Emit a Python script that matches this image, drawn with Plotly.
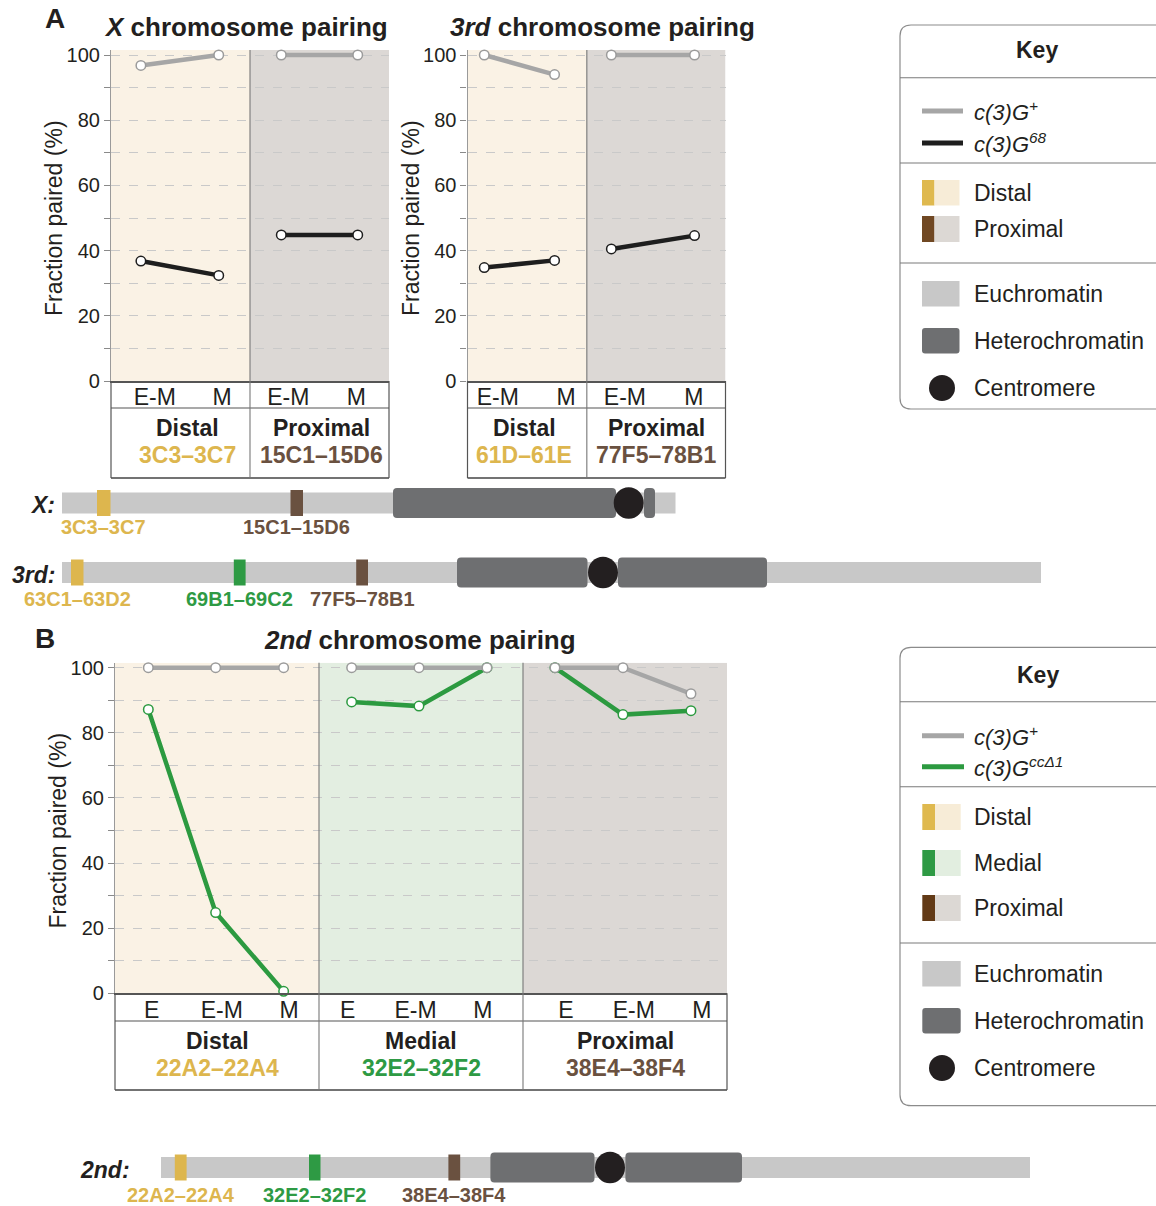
import plotly.graph_objects as go

W, H = 1156, 1206
FONT = "Liberation Sans, Arial, Helvetica, sans-serif"

# ------------------------------------------------------------------ data
stages_A = ["E-M", "M"]
stages_B = ["E", "E-M", "M"]

regions_X = ["Distal", "Proximal"]
bands_X = ["3C3–3C7", "15C1–15D6"]
X_wt = [[96.8, 100], [100, 100]]          # c(3)G+
X_68 = [[36.8, 32.4], [44.8, 44.8]]       # c(3)G68

regions_3 = ["Distal", "Proximal"]
bands_3 = ["61D–61E", "77F5–78B1"]
third_wt = [[100, 94], [100, 100]]
third_68 = [[34.8, 37.0], [40.5, 44.6]]

regions_2 = ["Distal", "Medial", "Proximal"]
bands_2 = ["22A2–22A4", "32E2–32F2", "38E4–38F4"]
second_wt = [[100, 100, 100], [100, 100, 100], [100, 100, 92]]
second_cc = [[87.2, 24.8, 0.6], [89.5, 88.2, 100], [100, 85.6, 86.8]]

y_ticks = [0, 20, 40, 60, 80, 100]
y_ticklabels = ["0", "20", "40", "60", "80", "100"]

# chromosome schematics (schematic units along the figure width)
chrom_X = dict(name="X", span=(62, 675.5), het=[(393, 616), (644, 655)], cen=628.7,
               loci=[("3C3–3C7", 97, 110.5, "distal"), ("15C1–15D6", 290.5, 303, "proximal")])
chrom_3 = dict(name="3rd", span=(62, 1041), het=[(457, 587.5), (618, 767)], cen=603,
               loci=[("63C1–63D2", 71, 83.5, "distal"), ("69B1–69C2", 233.8, 245.6, "medial"),
                     ("77F5–78B1", 356.2, 368, "proximal")])
chrom_2 = dict(name="2nd", span=(161, 1030), het=[(490.4, 594.5), (625.4, 742)], cen=610,
               loci=[("22A2–22A4", 174.8, 186.6, "distal"), ("32E2–32F2", 309, 320.5, "medial"),
                     ("38E4–38F4", 448.4, 460.2, "proximal")])

# ------------------------------------------------------------------ styles
GRAY_LINE = "#a6a6a6"
GRAY_MK = "#9b9b9b"
BLACK_LINE = "#1e1e1e"
GREEN_LINE = "#2c9a40"
C = dict(distal="#ddb64e", medial="#2e9a44", proximal="#6a5140")
BG = dict(distal="#faf2e5", medial="#e3eee1", proximal="#dcd8d5")
EU = "#c8c8c8"
HET = "#6e6f71"
CEN = "#231f20"
TXT = "#231f20"

fig = go.Figure()


def ann(text, x, y, size=23, color=TXT, bold=False, italic=False, xanchor="center", angle=0):
    t = text
    if italic:
        t = f"<i>{t}</i>"
    if bold:
        t = f"<b>{t}</b>"
    fig.add_annotation(text=t, x=x, y=y, xref="x4", yref="y4", showarrow=False,
                       font=dict(family=FONT, size=size, color=color),
                       xanchor=xanchor, yanchor="middle", textangle=angle)


def line(x0, y0, x1, y1, color="#555", width=1.2):
    fig.add_shape(type="line", x0=x0, y0=y0, x1=x1, y1=y1, xref="x4", yref="y4",
                  line=dict(color=color, width=width), layer="above")


def rect(x0, y0, x1, y1, color, ref=("x4", "y4"), layer="above"):
    fig.add_shape(type="rect", x0=x0, y0=y0, x1=x1, y1=y1, xref=ref[0], yref=ref[1],
                  fillcolor=color, line=dict(width=0), layer=layer)


def rrect(x0, y0, x1, y1, r, color):
    p = (f"M{x0+r},{y0} L{x1-r},{y0} Q{x1},{y0} {x1},{y0+r} L{x1},{y1-r} Q{x1},{y1} {x1-r},{y1} "
         f"L{x0+r},{y1} Q{x0},{y1} {x0},{y1-r} L{x0},{y0+r} Q{x0},{y0} {x0+r},{y0} Z")
    fig.add_shape(type="path", path=p, xref="x4", yref="y4", fillcolor=color,
                  line=dict(width=0), layer="above")


def circ(cx, cy, rx, ry, color):
    fig.add_shape(type="circle", x0=cx-rx, x1=cx+rx, y0=cy-ry, y1=cy+ry, xref="x4", yref="y4",
                  fillcolor=color, line=dict(width=0), layer="above")


# ------------------------------------------------------------------ panels
YTOP = 101.5
panels = [
    dict(ax="", px=(111, 389), py=(381, 55), bounds=[0, 2, 4],
         pts=[[0.43, 1.55], [2.45, 3.55]], ticks=[0.63, 1.60, 2.55, 3.53], stages=stages_A,
         regions=regions_X, bands=bands_X, keys=["distal", "proximal"], wt=X_wt, mut=X_68,
         mutcolor=BLACK_LINE, table=(408, 478), txt=(428, 455), txt_dx=[7, 2], ylab_x=54,
         title="<b><i>X</i> chromosome pairing</b>", title_xy=(246, 27)),
    dict(ax="2", px=(467.5, 725.5), py=(381, 55), bounds=[0, 1.85, 4],
         pts=[[0.26, 1.35], [2.23, 3.52]], ticks=[0.47, 1.53, 2.44, 3.51], stages=stages_A,
         regions=regions_3, bands=bands_3, keys=["distal", "proximal"], wt=third_wt, mut=third_68,
         mutcolor=BLACK_LINE, table=(408, 478), txt=(428, 455), txt_dx=[-3, 0], ylab_x=411,
         title="<b><i>3rd</i> chromosome pairing</b>", title_xy=(602, 27)),
    dict(ax="3", px=(115, 727), py=(993.3, 667.7), bounds=[0, 3, 6, 9],
         pts=[[0.49, 1.48, 2.48], [3.48, 4.47, 5.47], [6.47, 7.47, 8.47]],
         ticks=[0.54, 1.57, 2.56, 3.42, 4.42, 5.41, 6.63, 7.63, 8.63], stages=stages_B,
         regions=regions_2, bands=bands_2, keys=["distal", "medial", "proximal"], wt=second_wt,
         mut=second_cc, mutcolor=GREEN_LINE, table=(1021, 1090), txt=(1041, 1067.5),
         txt_dx=[0, 0, 0], ylab_x=57,
         title="<b><i>2nd</i> chromosome pairing</b>", title_xy=(420, 640)),
]

layout_axes = {}
for p in panels:
    x0p, x1p = p["px"]
    y0p, y100p = p["py"]
    unit = (y0p - y100p) / 100.0
    ytop_px = y0p - YTOP * unit
    r0, r1 = p["bounds"][0], p["bounds"][-1]
    xa = "xaxis" + p["ax"]
    ya = "yaxis" + p["ax"]
    xr = "x" + p["ax"]
    yr = "y" + p["ax"]
    layout_axes[xa] = dict(domain=[x0p / W, x1p / W], range=[r0, r1], anchor=yr, automargin=False,
                           tickvals=p["ticks"], ticktext=p["stages"] * len(p["regions"]),
                           ticks="", ticklabelstandoff=-5, showgrid=False, zeroline=False,
                           showline=True, linecolor="#555", linewidth=1.5,
                           tickfont=dict(family=FONT, size=23, color=TXT), fixedrange=True)
    layout_axes[ya] = dict(domain=[1 - y0p / H, 1 - ytop_px / H], range=[0, YTOP], anchor=xr,
                           automargin=False,
                           tickvals=y_ticks, ticktext=y_ticklabels, ticks="outside", ticklen=6,
                           tickcolor="#8a8a8a", tickwidth=1.2, showgrid=True, gridcolor="#c9c9c9",
                           griddash="dash", gridwidth=1, zeroline=False, showline=True,
                           linecolor="#9a9a9a", linewidth=1.2,
                           minor=dict(dtick=10, tick0=0, ticks="outside", ticklen=6,
                                      tickcolor="#8a8a8a", tickwidth=1.2, showgrid=True,
                                      gridcolor="#c9c9c9", griddash="dash", gridwidth=1),
                           tickfont=dict(family=FONT, size=20, color=TXT), fixedrange=True)

    def to_px(v):
        return x0p + (v - r0) / (r1 - r0) * (x1p - x0p)

    # region shading
    for i, k in enumerate(p["keys"]):
        rect(p["bounds"][i], 0, p["bounds"][i + 1], YTOP, BG[k], ref=(xr, yr), layer="below")

    # data traces
    for i, k in enumerate(p["keys"]):
        fig.add_trace(go.Scatter(x=p["pts"][i], y=p["mut"][i], xaxis=xr, yaxis=yr, mode="lines+markers",
                                 line=dict(color=p["mutcolor"], width=4.5), cliponaxis=False,
                                 marker=dict(size=9.5, color="white", line=dict(color=p["mutcolor"], width=1.5)),
                                 showlegend=False, hoverinfo="skip"))
        fig.add_trace(go.Scatter(x=p["pts"][i], y=p["wt"][i], xaxis=xr, yaxis=yr, mode="lines+markers",
                                 line=dict(color=GRAY_LINE, width=4.5), cliponaxis=False,
                                 marker=dict(size=9.5, color="white", line=dict(color=GRAY_MK, width=1.5)),
                                 showlegend=False, hoverinfo="skip"))

    # table below plot
    ymid, ybot = p["table"]
    line(x0p, ymid, x1p, ymid, "#555", 1.2)
    line(x0p, ybot, x1p, ybot, "#444", 1.6)
    line(x0p, y0p, x0p, ybot, "#555", 1.2)
    line(x1p, y0p, x1p, ybot, "#555", 1.2)
    for b in p["bounds"][1:-1]:
        line(to_px(b), ytop_px, to_px(b), ybot, "#777", 1.1)
    for i, k in enumerate(p["keys"]):
        cx = (to_px(p["bounds"][i]) + to_px(p["bounds"][i + 1])) / 2 + p["txt_dx"][i]
        ann(p["regions"][i], cx, p["txt"][0], 23, TXT, bold=True)
        ann(p["bands"][i], cx, p["txt"][1], 23, C[k], bold=True)

    ann("Fraction paired (%)", p["ylab_x"], (y0p + y100p) / 2, 23, TXT, angle=-90)
    fig.add_annotation(text=p["title"], x=p["title_xy"][0], y=p["title_xy"][1], xref="x4", yref="y4",
                       showarrow=False, font=dict(family=FONT, size=26, color=TXT),
                       xanchor="center", yanchor="middle")

ann("A", 55, 18, 28, TXT, bold=True)
ann("B", 45, 638, 28, TXT, bold=True)


# ------------------------------------------------------------------ chromosomes
def draw_chrom(ch, yc, label_x, label_y_off=24):
    s0, s1 = ch["span"]
    rect(s0, yc - 10.5, s1, yc + 10.5, EU)
    for h0, h1 in ch["het"]:
        rrect(h0, yc - 15, h1, yc + 15, 4, HET)
    circ(ch["cen"], yc, 15, 15.8, CEN)
    for name, l0, l1, k in ch["loci"]:
        rect(l0, yc - 13, l1, yc + 13, C[k])
        ann(name, (l0 + l1) / 2, yc + label_y_off, 20, C[k], bold=True)
    ann(ch["name"] + ":", label_x, yc + 2, 23, TXT, bold=True, italic=True, xanchor="right")


draw_chrom(chrom_X, 503, 57)
draw_chrom(chrom_3, 572.5, 57, 26)
draw_chrom(chrom_2, 1167.5, 132, 27)


# ------------------------------------------------------------------ keys
def key_box(top, bottom, seps):
    r = 11
    p = (f"M1175,{top} L{900+r},{top} Q900,{top} 900,{top+r} L900,{bottom-r} "
         f"Q900,{bottom} {900+r},{bottom} L1175,{bottom}")
    fig.add_shape(type="path", path=p, xref="x4", yref="y4", line=dict(color="#8c8c8c", width=1.2),
                  layer="above")
    for s in seps:
        line(900, s, 1160, s, "#7a7a7a", 1.1)


TX = 972
# Key A
key_box(25, 409, [77.7, 163, 263])
ann("Key", 1037, 50, 23, TXT, bold=True)
line(922, 111, 963, 111, GRAY_LINE, 5)
ann("<i>c(3)G<sup>+</sup></i>", TX, 111, 22, TXT, xanchor="left")
line(922, 143, 963, 143, BLACK_LINE, 5)
ann("<i>c(3)G<sup>68</sup></i>", TX, 143, 22, TXT, xanchor="left")
rect(922, 180, 934.5, 205.5, "#dfb94f"); rect(934.5, 180, 959.5, 205.5, "#f7ecd7")
ann("Distal", TX, 193, 23, TXT, xanchor="left")
rect(922, 216, 934.5, 242, "#704823"); rect(934.5, 216, 959.5, 242, "#dcd8d4")
ann("Proximal", TX, 229, 23, TXT, xanchor="left")
rect(922, 281, 959.5, 306.5, EU)
ann("Euchromatin", TX, 294, 23, TXT, xanchor="left")
rrect(922, 328, 959.5, 353.5, 3, HET)
ann("Heterochromatin", TX, 341, 23, TXT, xanchor="left")
circ(942, 388, 13, 13, CEN)
ann("Centromere", TX, 388, 23, TXT, xanchor="left")

# Key B
key_box(647.3, 1105.7, [701.7, 786.7, 943])
ann("Key", 1038, 675, 23, TXT, bold=True)
line(922, 735.7, 964, 735.7, GRAY_LINE, 5)
ann("<i>c(3)G<sup>+</sup></i>", TX, 736, 22, TXT, xanchor="left")
line(922, 766.7, 964, 766.7, GREEN_LINE, 5)
ann("<i>c(3)G<sup>ccΔ1</sup></i>", TX, 767, 22, TXT, xanchor="left")
rect(922.3, 804, 935, 830, "#dfb94f"); rect(935, 804, 960.7, 830, "#f7ecd7")
ann("Distal", TX, 817, 23, TXT, xanchor="left")
rect(922.3, 850, 935, 876, "#2e9a44"); rect(935, 850, 960.7, 876, "#e2eee0")
ann("Medial", TX, 863, 23, TXT, xanchor="left")
rect(922.3, 895, 935, 921, "#623a16"); rect(935, 895, 960.7, 921, "#dcd8d4")
ann("Proximal", TX, 908, 23, TXT, xanchor="left")
rect(922.3, 961, 960.7, 986.5, EU)
ann("Euchromatin", TX, 974, 23, TXT, xanchor="left")
rrect(922.3, 1008, 960.7, 1033.5, 3, HET)
ann("Heterochromatin", TX, 1021, 23, TXT, xanchor="left")
circ(942, 1068, 13, 13, CEN)
ann("Centromere", TX, 1068, 23, TXT, xanchor="left")

# ------------------------------------------------------------------ layout
layout_axes["xaxis4"] = dict(domain=[0, 1], range=[0, W], anchor="y4", visible=False,
                             fixedrange=True, automargin=False)
layout_axes["yaxis4"] = dict(domain=[0, 1], range=[H, 0], anchor="x4", visible=False,
                             fixedrange=True, automargin=False)
fig.add_trace(go.Scatter(x=[0], y=[0], xaxis="x4", yaxis="y4", mode="markers",
                         marker=dict(size=1, color="rgba(0,0,0,0)"), showlegend=False, hoverinfo="skip"))

fig.update_layout(width=W, height=H, margin=dict(l=0, r=0, t=0, b=0, autoexpand=False),
                  paper_bgcolor="white", plot_bgcolor="rgba(0,0,0,0)",
                  showlegend=False, font=dict(family=FONT, color=TXT), **layout_axes)

fig.write_html("out.html", config={"displayModeBar": False})
